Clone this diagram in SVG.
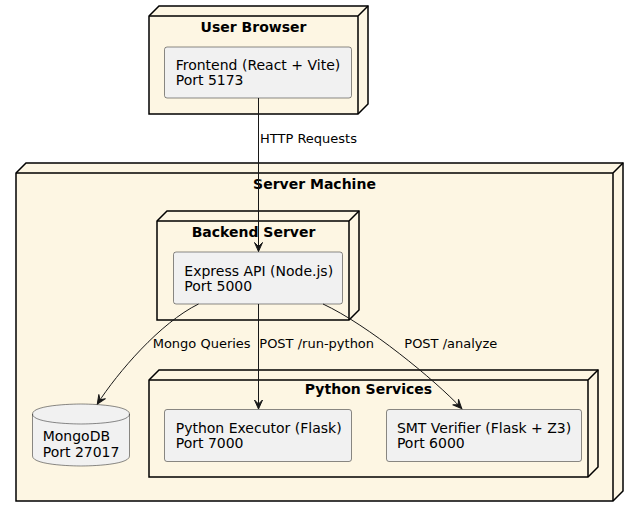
<svg xmlns="http://www.w3.org/2000/svg" width="638" height="517" viewBox="0 0 638 517">
<defs>
<style>
.node{fill:#FDF6E3;stroke:#000000;stroke-width:1.5;stroke-linejoin:miter}
.edge{fill:none;stroke:#000000;stroke-width:1.5}
.comp{fill:#F1F1F1;stroke:#181818;stroke-width:0.5}
.title{font-family:"DejaVu Sans",sans-serif;font-size:14px;font-weight:bold;fill:#000000;text-anchor:middle}
.lbl{font-family:"DejaVu Sans",sans-serif;font-size:14px;fill:#000000}
.alb{font-family:"DejaVu Sans",sans-serif;font-size:13px;fill:#000000}
.conn{fill:none;stroke:#181818;stroke-width:1}
</style>
<marker id="ah" markerUnits="userSpaceOnUse" markerWidth="12" markerHeight="12" viewBox="-10 -6 12 12" refX="0" refY="0" orient="auto">
<path d="M0,0 L-9,-4 L-5,0 L-9,4 Z" fill="#181818" stroke="#181818" stroke-width="1"/>
</marker>
</defs>
<rect width="638" height="517" fill="#FFFFFF"/>

<g id="user-browser">
<path class="node" d="M149,16 L159,6 L368,6 L368,104 L358,114 L149,114 Z"/>
<path class="edge" d="M358,16 L368,6 M149,16 L358,16 L358,114"/>
<text class="title" x="253.5" y="31.5">User Browser</text>
</g>

<g id="server-machine">
<path class="node" d="M16,173 L26,163 L623,163 L623,491 L613,501 L16,501 Z"/>
<path class="edge" d="M613,173 L623,163 M16,173 L613,173 L613,501"/>
<text class="title" x="314.5" y="189">Server Machine</text>
</g>

<g id="backend-server">
<path class="node" d="M157,221 L167,211 L359,211 L359,310 L349,320 L157,320 Z"/>
<path class="edge" d="M349,221 L359,211 M157,221 L349,221 L349,320"/>
<text class="title" x="253.5" y="236.7">Backend Server</text>
</g>

<g id="python-services">
<path class="node" d="M149,380 L159,370 L598,370 L598,467 L588,477 L149,477 Z"/>
<path class="edge" d="M588,380 L598,370 M149,380 L588,380 L588,477"/>
<text class="title" x="368.5" y="394.3">Python Services</text>
</g>

<g id="frontend">
<rect class="comp" x="164.5" y="47" width="187" height="51" rx="2.5" ry="2.5"/>
<text class="lbl" x="175.7" y="69.5">Frontend (React + Vite)</text>
<text class="lbl" x="175.7" y="84.5">Port 5173</text>
</g>

<g id="express-api">
<rect class="comp" x="173.5" y="252" width="169" height="52" rx="2.5" ry="2.5"/>
<text class="lbl" x="184.3" y="275.5">Express API (Node.js)</text>
<text class="lbl" x="184.3" y="290.5">Port 5000</text>
</g>

<g id="mongodb">
<path class="comp" d="M32.5,414 C32.5,404 81,404 81,404 C81,404 129.5,404 129.5,414 L129.5,456 C129.5,466 81,466 81,466 C81,466 32.5,466 32.5,456 L32.5,414 Z"/>
<path class="comp" style="fill:none" d="M32.5,414 C32.5,424 81,424 81,424 C81,424 129.5,424 129.5,414"/>
<text class="lbl" x="42.7" y="441">MongoDB</text>
<text class="lbl" x="42.7" y="456.5">Port 27017</text>
</g>

<g id="python-executor">
<rect class="comp" x="164.5" y="409.5" width="187" height="52" rx="2.5" ry="2.5"/>
<text class="lbl" x="175.7" y="432.5">Python Executor (Flask)</text>
<text class="lbl" x="175.7" y="447.5">Port 7000</text>
</g>

<g id="smt-verifier">
<rect class="comp" x="386.5" y="409.5" width="195" height="52" rx="2.5" ry="2.5"/>
<text class="lbl" x="396.9" y="432.5">SMT Verifier (Flask + Z3)</text>
<text class="lbl" x="396.9" y="447.5">Port 6000</text>
</g>

<g id="connectors">
<path class="conn" d="M258.5,98 L258.5,251.5" marker-end="url(#ah)"/>
<text class="alb" x="260" y="143.3">HTTP Requests</text>
<path class="conn" d="M198.5,304 C160,323 118,372 97.3,404" marker-end="url(#ah)"/>
<text class="alb" x="152.7" y="348.3">Mongo Queries</text>
<path class="conn" d="M258.5,304 L258.5,409" marker-end="url(#ah)"/>
<text class="alb" x="259.3" y="348.3">POST /run-python</text>
<path class="conn" d="M323,304 C368,325 435,380 461.7,408.5" marker-end="url(#ah)"/>
<text class="alb" x="404.3" y="348.3">POST /analyze</text>
</g>
</svg>
